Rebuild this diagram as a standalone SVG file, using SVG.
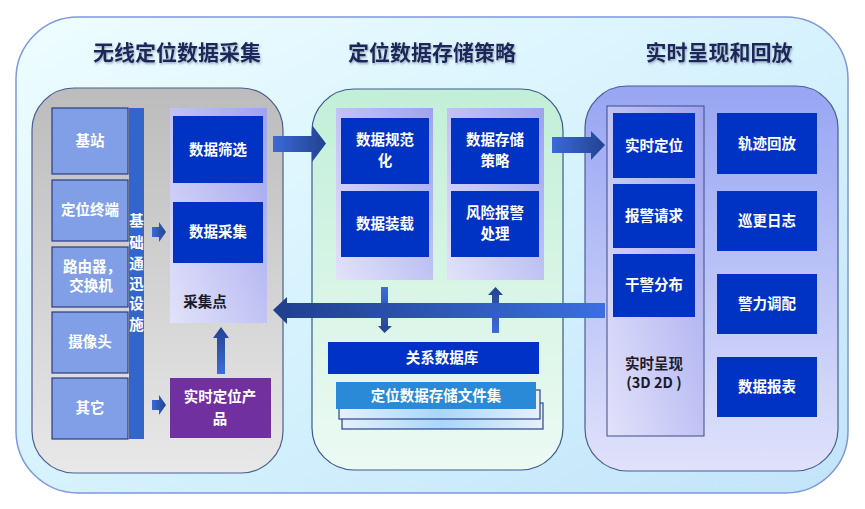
<svg xmlns="http://www.w3.org/2000/svg" width="865" height="509" viewBox="0 0 865 509">
<defs>
<linearGradient id="gOuter" x1="0" y1="0" x2="1" y2="1">
<stop offset="0" stop-color="#eefdff"/><stop offset="0.5" stop-color="#d6f2fd"/><stop offset="1" stop-color="#c2e4fa"/>
</linearGradient>
<linearGradient id="gGray" x1="0" y1="0" x2="0" y2="1">
<stop offset="0" stop-color="#bcbcbc"/><stop offset="1" stop-color="#e8e8e8"/>
</linearGradient>
<linearGradient id="gGreen" x1="0" y1="0" x2="0" y2="1">
<stop offset="0" stop-color="#c2efd8"/><stop offset="1" stop-color="#ecfaf3"/>
</linearGradient>
<linearGradient id="gRight" x1="0" y1="0" x2="0" y2="1">
<stop offset="0" stop-color="#97a5f3"/><stop offset="1" stop-color="#e0e2fb"/>
</linearGradient>
<linearGradient id="gLav" x1="0" y1="1" x2="1" y2="0">
<stop offset="0" stop-color="#e2e2fa"/><stop offset="1" stop-color="#9fa3ee"/>
</linearGradient>
<linearGradient id="gStack" x1="0" y1="0" x2="1" y2="0">
<stop offset="0" stop-color="#e6f0ff"/><stop offset="0.5" stop-color="#a8d6fb"/><stop offset="1" stop-color="#e6f0ff"/>
</linearGradient>
<linearGradient id="gArrR" x1="0" y1="0" x2="1" y2="0">
<stop offset="0" stop-color="#3b6ad6"/><stop offset="1" stop-color="#22428f"/>
</linearGradient>
<linearGradient id="gArrL" x1="0" y1="0" x2="1" y2="0">
<stop offset="0" stop-color="#203f8c"/><stop offset="1" stop-color="#3b6ee0"/>
</linearGradient>
<linearGradient id="gArrU" x1="0" y1="1" x2="0" y2="0">
<stop offset="0" stop-color="#3c6cdc"/><stop offset="1" stop-color="#23438f"/>
</linearGradient>
<linearGradient id="gArrD" x1="0" y1="0" x2="0" y2="1">
<stop offset="0" stop-color="#3c6cdc"/><stop offset="1" stop-color="#23438f"/>
</linearGradient>
<filter id="sh" x="-10%" y="-10%" width="120%" height="130%">
<feDropShadow dx="1" dy="1.5" stdDeviation="1" flood-color="#6a7a9a" flood-opacity="0.6"/>
</filter>
</defs>
<style>
text{font-family:"Noto Sans CJK SC","Liberation Sans",sans-serif;font-weight:bold;text-anchor:middle}
.t{fill:#ffffff;font-size:14.5px}
.d{fill:#1a1a2a;font-size:14.5px}
.title{fill:#1c2858;font-size:21px}
.blue{fill:#0032c4}
.lbox{fill:#809fe6;stroke:#2c3c80;stroke-width:1.2}
.lav{fill:url(#gLav)}
</style>

<g id="frame">
<rect x="16" y="17" width="832" height="476" rx="62" fill="url(#gOuter)" stroke="#7f96e0" stroke-width="1.5"/>
<text class="title" x="177" y="60" filter="url(#sh)">无线定位数据采集</text>
<text class="title" x="432" y="60" filter="url(#sh)">定位数据存储策略</text>
<text class="title" x="719" y="60" filter="url(#sh)">实时呈现和回放</text>
</g>

<g id="panel-collect">
<rect x="32" y="88" width="251" height="385" rx="42" fill="url(#gGray)" stroke="#4d5d90" stroke-width="1.2"/>
</g>
<g id="panel-store">
<rect x="312" y="89" width="251" height="381" rx="42" fill="url(#gGreen)" stroke="#3c5a8c" stroke-width="1.2"/>
</g>
<g id="panel-show">
<rect x="585" y="86" width="253" height="385" rx="42" fill="url(#gRight)" stroke="#4d5d90" stroke-width="1.2"/>
</g>

<g id="n-jizhan"><rect class="lbox" x="52" y="108" width="76" height="66"/><text class="t" x="90" y="146">基站</text></g>
<g id="n-zhongduan"><rect class="lbox" x="52" y="180" width="76" height="61"/><text class="t" x="90" y="215">定位终端</text></g>
<g id="n-luyou"><rect class="lbox" x="52" y="247" width="76" height="60"/><text class="t" x="92" y="272">路由器，</text><text class="t" x="91" y="291">交换机</text></g>
<g id="n-shexiang"><rect class="lbox" x="52" y="312" width="76" height="61"/><text class="t" x="90" y="347">摄像头</text></g>
<g id="n-qita"><rect class="lbox" x="52" y="378" width="76" height="61"/><text class="t" x="90" y="413">其它</text></g>

<g id="n-infra">
<rect x="129" y="108" width="15" height="331" fill="#3366cc"/>
<text class="t" x="136.5" y="226">基</text>
<text class="t" x="136.5" y="248">础</text>
<text class="t" x="136.5" y="269">通</text>
<text class="t" x="136.5" y="289">迅</text>
<text class="t" x="136.5" y="309">设</text>
<text class="t" x="136.5" y="330">施</text>
</g>

<g id="n-caijidian">
<rect class="lav" x="170" y="108" width="97" height="215"/>
<rect class="blue" x="173" y="116" width="90" height="67"/><text class="t" x="218" y="155">数据筛选</text>
<rect class="blue" x="173" y="202" width="90" height="61"/><text class="t" x="218" y="237">数据采集</text>
<text class="d" x="205" y="307">采集点</text>
</g>

<g id="n-product">
<rect x="170" y="378" width="101" height="60" fill="#7030a0"/>
<text class="t" x="220" y="402">实时定位产</text>
<text class="t" x="220" y="424">品</text>
</g>

<g id="n-store-col1">
<rect class="lav" x="336" y="108" width="97" height="172"/>
<rect class="blue" x="341" y="118" width="88" height="66"/><text class="t" x="385" y="145">数据规范</text><text class="t" x="385" y="166">化</text>
<rect class="blue" x="341" y="191" width="88" height="66"/><text class="t" x="385" y="229">数据装载</text>
</g>
<g id="n-store-col2">
<rect class="lav" x="447" y="108" width="97" height="172"/>
<rect class="blue" x="451" y="118" width="88" height="66"/><text class="t" x="495" y="145">数据存储</text><text class="t" x="495" y="166">策略</text>
<rect class="blue" x="451" y="191" width="88" height="66"/><text class="t" x="495" y="218">风险报警</text><text class="t" x="495" y="239">处理</text>
</g>

<g id="n-db">
<rect x="328" y="342" width="211" height="32" fill="#0032c8"/>
<text class="t" x="442" y="363">关系数据库</text>
</g>
<g id="n-files">
<rect x="342" y="403" width="201" height="26" fill="url(#gStack)" stroke="#2c4488" stroke-width="1.2"/>
<rect x="339" y="390" width="201" height="29" fill="url(#gStack)" stroke="#2c4488" stroke-width="1.2"/>
<rect x="336" y="382" width="200" height="27" fill="#2b8ad8"/>
<text class="t" x="436" y="401">定位数据存储文件集</text>
</g>

<g id="n-show-col">
<rect class="lav" x="607" y="106" width="97" height="330" stroke="#3c4c88" stroke-width="1"/>
<rect class="blue" x="613" y="113" width="82" height="65"/><text class="t" x="654" y="151">实时定位</text>
<rect class="blue" x="613" y="184" width="82" height="64"/><text class="t" x="654" y="221">报警请求</text>
<rect class="blue" x="613" y="254" width="82" height="63"/><text class="t" x="654" y="290">干警分布</text>
<text class="d" x="654" y="369">实时呈现</text>
<text class="d" x="654" y="388">(3D 2D )</text>
</g>
<g id="n-guiji"><rect class="blue" x="717" y="113" width="100" height="61"/><text class="t" x="767" y="149">轨迹回放</text></g>
<g id="n-xungeng"><rect class="blue" x="717" y="191" width="100" height="60"/><text class="t" x="767" y="226">巡更日志</text></g>
<g id="n-jingli"><rect class="blue" x="717" y="274" width="100" height="60"/><text class="t" x="767" y="309">警力调配</text></g>
<g id="n-baobiao"><rect class="blue" x="717" y="357" width="100" height="60"/><text class="t" x="767" y="392">数据报表</text></g>

<g id="connectors">
<path d="M152 227 H159 V222 L166 232 L159 242 V237 H152 Z" fill="url(#gArrR)"/>
<path d="M152 400 H159 V395 L166 405 L159 415 V410 H152 Z" fill="url(#gArrR)"/>
<path d="M217 374 V338 H213 L221 327 L229 338 H225 V374 Z" fill="url(#gArrU)"/>
<path d="M273 136 H312 V125 L326 143.5 L312 162 V152 H273 Z" fill="url(#gArrR)"/>
<path d="M552 137 H591 V131 L605 145 L591 160 V153 H552 Z" fill="url(#gArrR)"/>
<path d="M381 287 H388 V326 H392 L384.5 333 L378 326 H381 Z" fill="url(#gArrD)"/>
<path d="M492 333 V295 H488 L495.5 287 L503 295 H499 V333 Z" fill="url(#gArrU)"/>
<path d="M605 303 H287 V297 L273 310 L287 324 V318 H605 Z" fill="url(#gArrL)"/>
</g>
</svg>
